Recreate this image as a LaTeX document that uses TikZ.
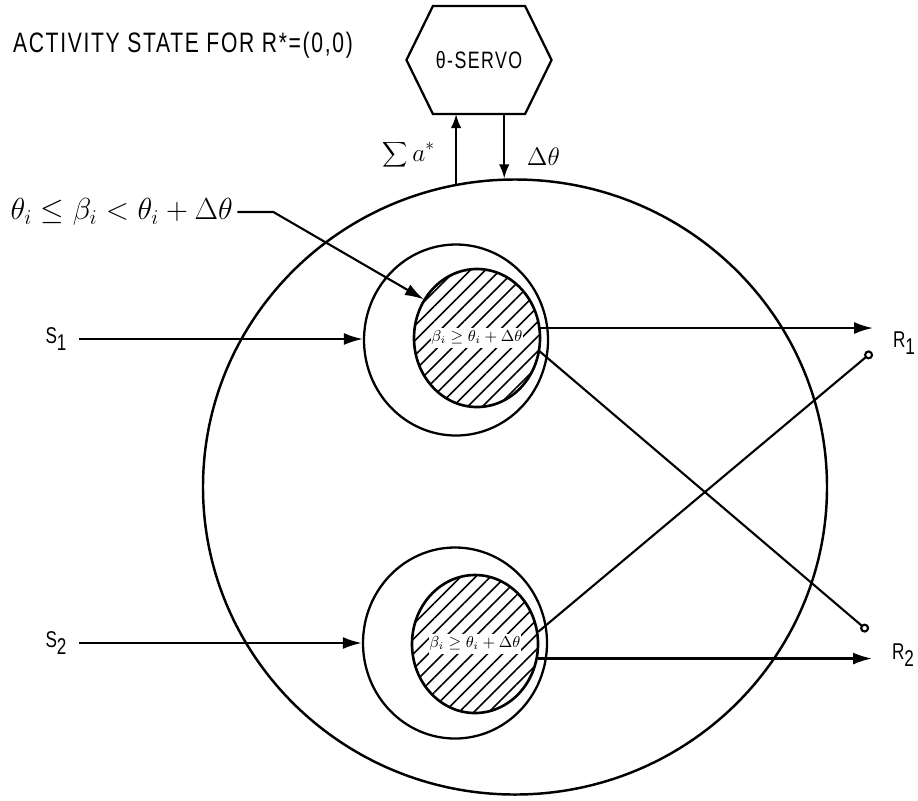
\documentclass[tikz,border=0pt]{standalone}
\usepackage{fontspec}
\newfontfamily\lettering{Liberation Sans}[FakeStretch=0.75, LetterSpace=6]
\usetikzlibrary{positioning,arrows.meta,shapes.geometric,patterns.meta}
\newcommand\lowsub[1]{\raisebox{-0.55ex}{#1}}

\begin{document}
\begin{tikzpicture}[
    x=0.2mm, y=-0.2mm,
    >={Latex[length=3.8mm,width=2.4mm]},
    line width=1.2pt,
    big/.style={draw, ellipse, inner sep=0pt, line width=1.4pt, minimum width=124.8mm, minimum height=123mm},
    ring/.style={draw, ellipse, inner sep=0pt, line width=1.3pt, minimum width=36.8mm, minimum height=38.2mm},
    core/.style={draw, ellipse, inner sep=0pt, line width=1.5pt, minimum width=25.2mm, minimum height=27.6mm,
                 pattern={Lines[angle=45, distance=2.1mm, line width=0.9pt]}},
    corelab/.style={fill=white, inner xsep=0.4pt, inner ysep=1.5pt, font=\fontsize{9.2}{11}\selectfont},
    terminal/.style={font=\lettering\fontsize{13}{15}\selectfont, inner sep=1pt},
    pin/.style={-{Circle[open, length=1.8mm, line width=1.2pt]}},
    servoarrow/.style={->, >={Latex[length=2.8mm,width=2.1mm]}},
]
  \useasboundingbox (0,0) rectangle (918,800);

  % ---------------- title ----------------
  \node[anchor=west, font=\lettering\fontsize{16}{18}\selectfont, inner sep=0pt] (title) at (12,45)
       {ACTIVITY STATE FOR R*=(0,0)};

  % ---------------- servo ----------------
  \node[minimum width=18mm, minimum height=21.2mm, inner sep=0pt, font=\lettering\fontsize{13.5}{15}\selectfont]
       (servo) at (479,60) {θ-SERVO};
  \draw[line width=1.3pt] (servo.north west) -- (servo.north east) -- ([xshift=5.3mm]servo.east)
       -- (servo.south east) -- (servo.south west) -- ([xshift=-5.3mm]servo.west) -- cycle;

  % ---------------- net ----------------
  \node[big] (net) at (515,487) {};
  \node[ring] (mid1) at (456,340) {};
  \node[ring] (mid2) at (455,643) {};
  \node[core] (in1) at (477,338) {};
  \node[core] (in2) at (475,644) {};
  \node[corelab] (lab1) at (in1) {$\beta_i \geq \theta_i + \Delta\theta$};
  \node[corelab] (lab2) at (in2) {$\beta_i \geq \theta_i + \Delta\theta$};

  % servo loop
  \draw[servoarrow] (net.101) -- (net.101 |- servo.south);
  \draw[servoarrow] (net.92 |- servo.south) -- (net.92);
  \node[font=\Large, anchor=east] (sum) at (442,155) {$\displaystyle\sum a^{*}$};
  \node[font=\Large, anchor=west] (dtheta) at (520,157) {$\Delta\theta$};

  % threshold band
  \node[anchor=west, font=\LARGE, inner sep=2pt] (band) at (6,212)
       {$\theta_i \leq \beta_i < \theta_i + \Delta\theta$};
  \draw[->] (band.east) -- ++(36,0) -- (in1.144);

  % ---------------- inputs ----------------
  \node[terminal] (s1) at (56,339) {S\lowsub{1}};
  \node[terminal] (s2) at (56,643) {S\lowsub{2}};
  \draw[->] ([xshift=2mm]s1.east) -- (s1.east -| mid1.west);
  \draw[->] ([xshift=2mm]s2.east) -- (s2.east -| mid2.west);

  % ---------------- outputs ----------------
  \coordinate (r1tip) at (873,329);
  \coordinate (r1pin) at (872,352);
  \coordinate (r2pin) at (868,631);
  \coordinate (r2tip) at (872,658);
  \node[terminal] (r1) at (904,343) {R\lowsub{1}};
  \node[terminal] (r2) at (903,655) {R\lowsub{2}};
  \draw[->] (in1.9) -- (in1.9 -| r1tip);
  \draw[pin] (in1.-12) -- (r2pin);
  \draw[pin] (in2.11) -- (r1pin);
  \draw[->] (in2.-13) -- (in2.-13 -| r2tip);
\end{tikzpicture}
\end{document}
